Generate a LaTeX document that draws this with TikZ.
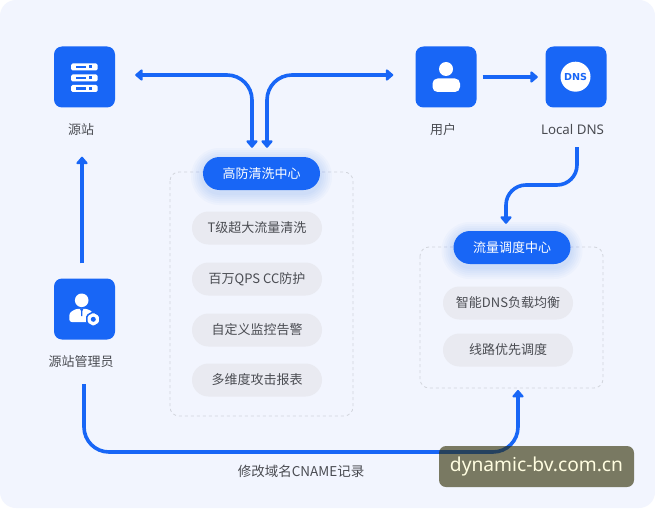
\documentclass[tikz,border=0pt]{standalone}
\usepackage{fontspec}
\setmainfont{Noto Sans CJK SC}
\newfontfamily\latinfont{Noto Sans}
\newfontfamily\dnsfont{DejaVu Sans}
\usetikzlibrary{arrows.meta}
\definecolor{flowblue}{HTML}{1866F6}
\definecolor{pagebg}{HTML}{F2F5FE}
\definecolor{itemgray}{HTML}{E9EAF1}
\definecolor{dashgray}{HTML}{D2D5DC}
\definecolor{labelgray}{HTML}{4A4C52}
\definecolor{markbg}{HTML}{2D2B00}
\tikzset{
	flowtip/.tip={Triangle[width=13pt,length=8pt,round]},
	iconbox/.style={fill=flowblue, rounded corners=8pt, minimum width=61pt, minimum height=61pt, inner sep=0pt},
	iconlabel/.style={text=labelgray, font=\fontsize{13}{15}\selectfont, inner sep=0pt},
	centerpill/.style={fill=flowblue, text=white, rounded corners=16.5pt, minimum width=117pt, minimum height=33pt, inner sep=0pt, font=\fontsize{13}{15}\selectfont},
	itempill/.style={fill=itemgray, text=labelgray, rounded corners=16.5pt, minimum width=130pt, minimum height=33pt, inner sep=0pt, font=\fontsize{13}{15}\selectfont},
	dashbox/.style={draw=dashgray, dashed, rounded corners=9pt, line width=0.8pt},
	flow/.style={draw=flowblue, line width=3.6pt, line join=round, -flowtip},
}
\newcommand{\pillglow}[2]{
	\foreach \g in {12,10,...,2}
		\fill [flowblue, opacity=0.027, rounded corners={16.5pt+\g*1pt}] ({#1-58.5-\g},{#2-16.5-\g+3}) rectangle ({#1+58.5+\g},{#2+16.5+\g+3});
}
\begin{document}
\begin{tikzpicture}[x=1pt, y=-1pt]
	\useasboundingbox (0,0) rectangle (655,508);
	\fill [white] (0,0) rectangle (655,508);
	\fill [pagebg, rounded corners=16pt] (0,0) rectangle (655,508);

	\draw [dashbox] (170,172) rectangle (353,416);
	\draw [dashbox] (420,247) rectangle (603,388);
	\pillglow{261.5}{173.5}
	\pillglow{512}{247.5}

	\node [iconbox] (source) at (84.5,77) {};
	\node [iconbox] (user) at (446,77) {};
	\node [iconbox] (dns) at (576,77) {};
	\node [iconbox] (admin) at (84.5,309) {};

	\node [iconlabel] (sourcelabel) at (81,129.5) {源站};
	\node [iconlabel] (userlabel) at (443,129.5) {用户};
	\node [iconlabel, font=\fontsize{13.3}{15}\selectfont\latinfont] (dnslabel) at (572.5,129.5) {Local DNS};
	\node [iconlabel] (adminlabel) at (81,362) {源站管理员};

	% server
	\foreach \y in {63.5,74.5,85} {
		\fill [white, rounded corners=1.5pt] (71,\y) rectangle (97.5,\y+7);
		\fill [flowblue] (76,\y+2.3) rectangle (85.5,\y+4.7);
		\fill [flowblue] (88.5,\y+2) rectangle (91.5,\y+5);
	}
	% user
	\fill [white] (446,69) circle (7);
	\fill [white, rounded corners=5pt] (432.5,92) -- (432.5,78.5) -- (460,78.5) -- (460,92) -- cycle;
	% dns
	\fill [white] (575.5,76.7) circle (15);
	\node [text=flowblue, inner sep=0pt, font=\fontsize{9.6}{12}\selectfont\dnsfont\bfseries] (dnsmark) at (575.5,76.7) {DNS};
	% admin
	\fill [white] (81.7,300.3) circle (6.8);
	\fill [white, rounded corners=2.5pt] (69.3,322) -- (69.3,313) -- (76,308.8) -- (87,308.8) -- (93,312) -- (93,322) -- cycle;
	\fill [flowblue] (80,308.8) -- (83.4,308.8) -- (82.4,311) -- (82.4,316) -- (81,316) -- (81,311) -- cycle;
	\fill [white, draw=flowblue, line width=1.5pt, rounded corners=1.5pt] (93.3,311.8) -- (99.8,315.5) -- (99.8,323) -- (93.3,326.8) -- (86.8,323) -- (86.8,315.5) -- cycle;
	\fill [flowblue] (93.3,319.3) circle (2.5);

	\node [centerpill] (ddos) at (261.5,173.5) {高防清洗中心};
	\node [centerpill] (sched) at (512,247.5) {流量调度中心};

	\foreach \i/\y/\t in {1/228/{T级超大流量清洗},2/279/{百万QPS CC防护},3/330/{自定义监控告警},4/380/{多维度攻击报表}}
		\node [itempill] (ddos\i) at (257,\y) {\t};
	\foreach \i/\y/\t in {1/303/{智能DNS负载均衡},2/350/{线路优先调度}}
		\node [itempill] (sched\i) at (508,\y) {\t};

	\coordinate (schedtip) at (518,390);
	\coordinate (adminfoot) at (84,384);
	\coordinate (dnsfoot) at (577,147);

	\draw [flow, flowtip-flowtip, rounded corners=25pt] ([xshift=-9.5pt,yshift=9pt]ddos.north) |- ([xshift=20pt,yshift=2pt]source.east);
	\draw [flow, flowtip-flowtip, rounded corners=25pt] ([xshift=5.5pt,yshift=9pt]ddos.north) |- ([xshift=-22pt,yshift=2pt]user.west);
	\draw [flow] ([xshift=6pt]user.east) -- ([xshift=-7.5pt]dns.west);
	\draw [flow, rounded corners=20pt] (dnsfoot) -- ++(0,38) -| ([xshift=-6pt,yshift=7pt]sched.north);
	\draw [flow] ([xshift=-2.5pt,yshift=15pt]admin.north) -- ([xshift=-2.5pt,yshift=-49pt]source.south);
	\draw [flow, rounded corners=25pt] (adminfoot) -- ++(0,68) -| (schedtip);

	\node [text=labelgray, inner sep=0pt, font=\fontsize{13.5}{15}\selectfont] (cname) at (301,471) {修改域名CNAME记录};
	\node [fill=markbg, fill opacity=0.61, text opacity=1, text=white!88!yellow, rounded corners=7pt, minimum width=195pt, minimum height=41pt, inner sep=0pt, font=\fontsize{19.2}{22}\selectfont\latinfont] (mark) at (536.5,466.5) {dynamic-bv.com.cn};
\end{tikzpicture}
\end{document}
